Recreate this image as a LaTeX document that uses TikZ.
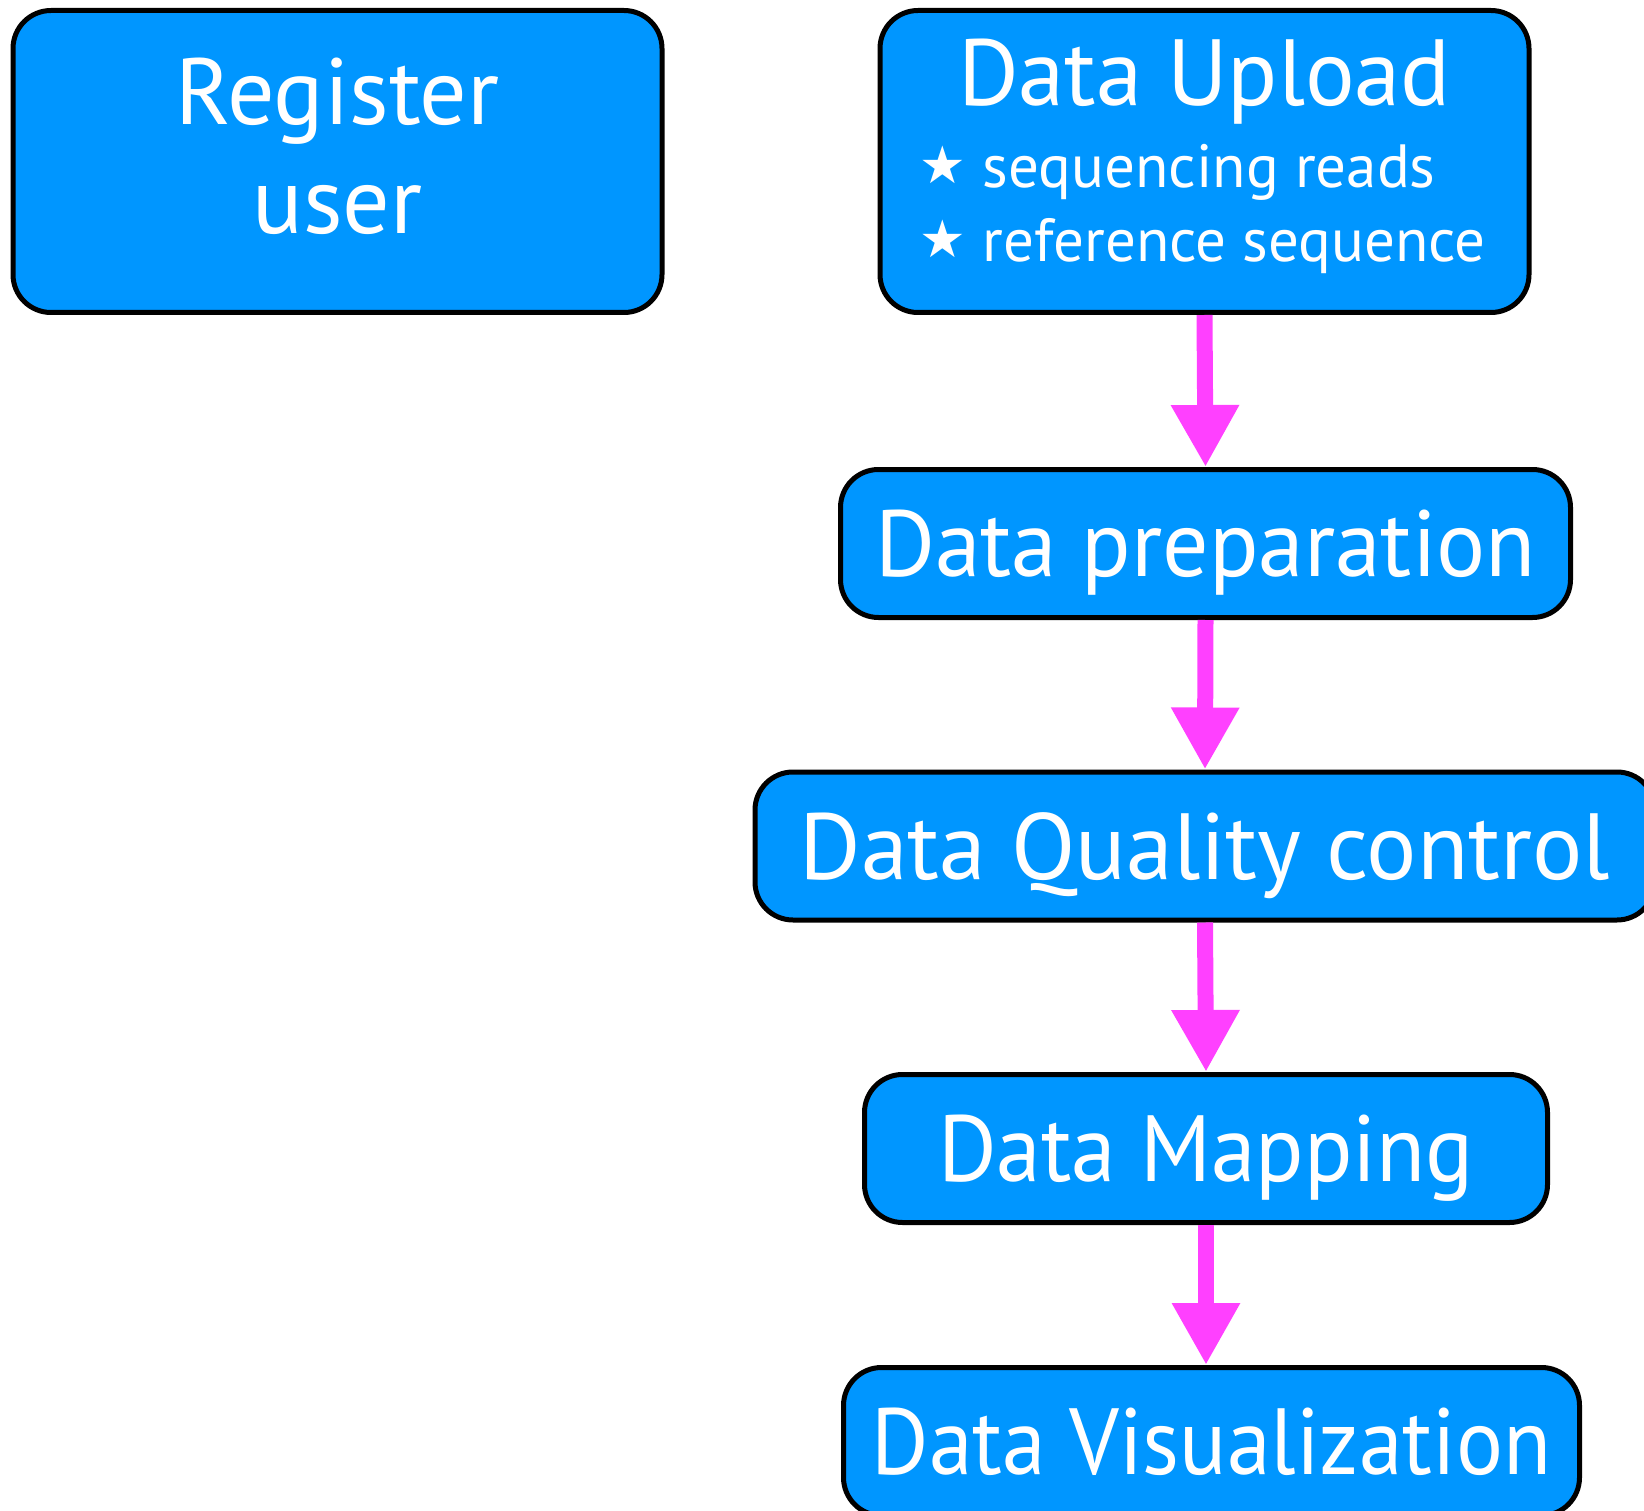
\documentclass[tikz,border=0pt]{standalone}
\usepackage{fontspec}
\setmainfont{PT Sans}
\newfontfamily\symfont{DejaVu Sans}
\usetikzlibrary{arrows.meta}
\definecolor{stageblue}{RGB}{0,150,255}
\definecolor{flowpink}{RGB}{255,64,255}
\newcommand\titlesize{\fontsize{94}{109}\selectfont}
\newcommand\itemsize{\fontsize{61}{74}\selectfont}
\newcommand\staritem{\raisebox{4pt}{\symfont\fontsize{52}{52}\selectfont ★}\hspace{17pt}}
% horizontally condensed label
\newcommand\narrow[2]{\scalebox{#1}[1]{#2}}
\begin{document}
\begin{tikzpicture}[x=1pt, y=-1pt,
  stage/.style={draw=black, line width=5pt, fill=stageblue, rounded corners=38pt,
    text=white, font=\titlesize, inner sep=0pt, minimum height=148pt,
    text height=66pt, text depth=0pt},
  flow/.style={draw=flowpink, line width=16pt, -{Triangle[length=62pt,width=64pt]}}]
\clip (0,0) rectangle (1644,1511);

% left-hand box
\node[stage, minimum width=649pt, minimum height=302pt, text height=175pt, text depth=30pt]
  (register) at (337.5,161.5) {\begin{tabular}[b]{@{}c@{}}Register\\user\end{tabular}};

% pipeline stages
\node[stage, minimum width=649pt, minimum height=302pt, text depth=178pt]
  (upload) at (1204.5,161.5) {\narrow{0.988}{Data Upload}};
\node[anchor=base west, inner sep=0pt, text=white, font=\itemsize]
  (uploaditems) at (919,188)
  {\begin{tabular}[t]{@{}l@{}}\staritem sequencing reads\\\staritem reference sequence\end{tabular}};

\node[stage, minimum width=730pt] (prep) at (1205.5,543.5) {\narrow{0.976}{Data preparation}};
\node[stage, minimum width=900pt] (qc)   at (1205,846)    {Data Quality control};
\node[stage, minimum width=683pt] (map)  at (1206,1148.5) {\narrow{0.954}{Data Mapping}\hspace{18pt}};
\node[stage, minimum width=736pt] (vis)  at (1211.5,1441.5) {\narrow{0.934}{Data Visualization}\hspace{24pt}};

% flow arrows
\draw[flow] (upload.south) -- (prep.north);
\draw[flow] (prep.south) -- (qc.north);
\draw[flow] (qc.south) -- (map.north);
\draw[flow] (map.south) -- (map.south |- vis.north);
\end{tikzpicture}
\end{document}
